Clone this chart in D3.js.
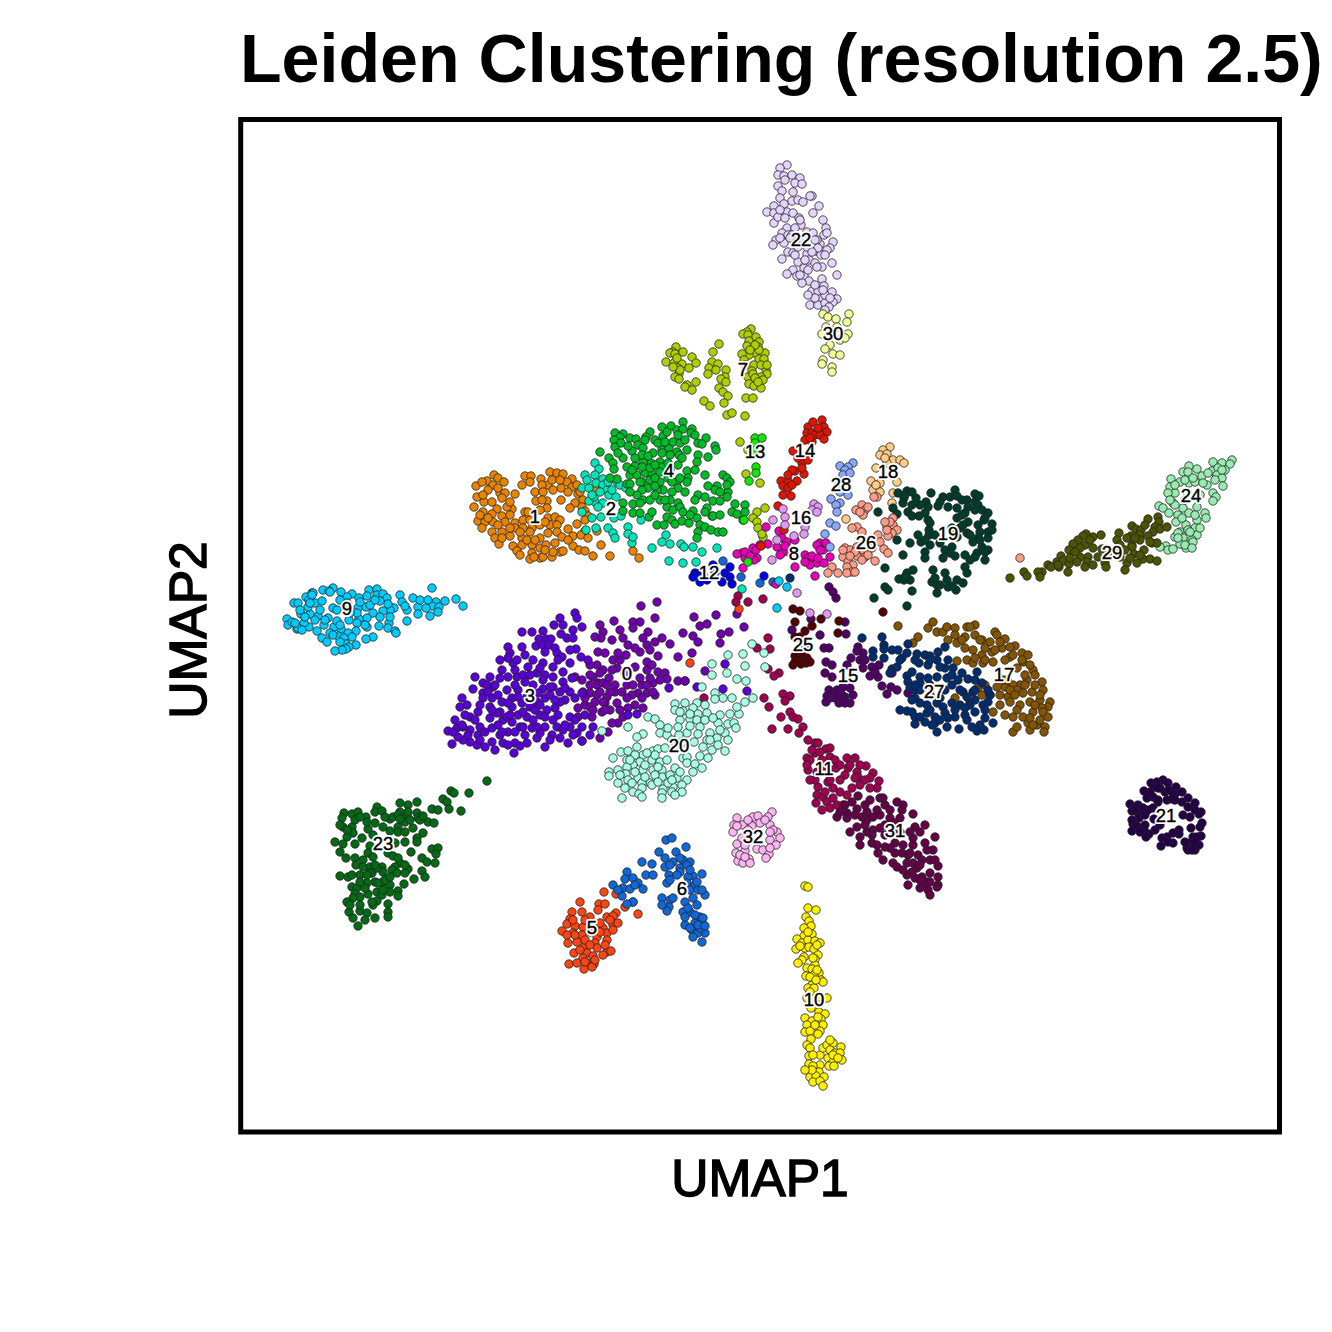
<!DOCTYPE html>
<html>
<head>
<meta charset="utf-8">
<script src="https://cdn.jsdelivr.net/npm/d3@7"></script>
<style>
  html, body { margin: 0; padding: 0; background: #fff; }
  svg { display: block; }
</style>
</head>
<body>
<script>
// embedding, flat x,y lists per cluster (umap1 grows right, umap2 is stored top-down)
const c0 = [401,486,417,482,415,498,374,501,360,505,363,512,361,518,355,517,380,510,383,518,388,525,393,502,400,502,393,508,408,512,407,525,400,532,415,522,422,518,430,524,418,536,407,542,358,532,365,533,373,540,380,540,443,513,438,537,357,545,363,550,377,548,395,547,407,550,418,552,425,553,427,559,438,561,445,561,369,558,375,565,387,565,393,565,402,565,413,563,420,560,358,563,350,573,357,575,367,577,375,572,398,573,407,573,415,575,395,585,403,588,338,588,345,585,350,587,338,597,352,597,362,592,370,590,380,590,383,597,378,603,372,603,368,612,360,618,342,621,365,583,377,583,357,565,343,572,342,560,335,557,353,557,350,565,363,563,370,572,363,582,355,582,407,565,413,572,392,575,454,497,460,506,467,504,476,495,481,514,489,512,504,507,480,523,453,516,458,522,452,533,465,551,445,561,497,494,372,520,395,528,403,518,410,530,412,545,372,550,385,553,350,545,350,555,360,553,367,565,382,572,400,558,410,558,360,572,345,578,365,590,387,578,402,578,388,588,353,590,378,533,386,535];
const c1 = [236,366,247,361,254,355,258,358,264,362,253,365,248,370,237,377,244,382,234,387,252,382,260,373,265,373,275,374,282,365,285,356,291,356,301,359,310,352,317,353,323,354,332,359,327,362,308,365,302,365,295,372,303,372,296,381,307,381,321,368,332,367,337,365,338,374,321,380,335,383,343,380,342,387,345,391,348,396,307,388,300,390,285,392,272,389,267,387,257,389,243,392,252,394,262,396,238,401,245,402,253,402,265,402,275,403,283,400,290,400,308,398,315,397,320,400,337,404,242,408,252,412,262,412,275,408,283,408,292,408,300,405,310,405,317,405,328,409,345,411,357,411,255,418,259,424,270,416,282,418,290,412,300,418,308,413,317,412,322,417,333,416,341,415,348,418,273,426,282,425,292,425,300,428,315,423,333,426,361,425,339,430,345,431,277,431,292,433,290,439,300,438,312,437,320,432,323,431,353,436,370,436,393,431,399,438,294,437,303,437,313,432,356,370,242,362,258,368,290,362,312,360,320,360,243,375,262,378,270,382,240,395,258,405,270,408,288,392,302,380,313,370,328,372,330,388,340,372,248,398,280,412,287,420,295,420,306,425,328,420,345,400,270,395,305,402,262,418,280,435,305,430];
const c2 = [355,343,359,349,345,355,355,355,363,359,356,363,377,362,342,368,349,368,363,365,367,370,369,375,380,365,386,368,376,377,355,382,363,383,349,381,358,387,342,392,352,398,361,397,374,398,381,396,346,410,356,408,368,408,373,413,375,418,388,407,388,414,392,423,401,400,393,417,426,415,422,422,430,424,412,428,441,424,444,427,453,427,462,432,477,428,429,441,443,443,456,442,354,377,502,469,368,362,360,372,352,375,372,370,347,360];
const c3 = [282,512,292,512,303,511,320,498,335,493,337,498,314,505,323,505,333,510,342,507,321,514,327,518,333,518,299,519,306,519,311,519,296,526,303,525,309,525,268,527,282,527,270,533,285,535,305,532,315,528,317,533,322,537,336,529,341,537,268,538,273,543,262,550,277,540,293,540,288,547,303,543,313,547,323,552,330,543,235,557,243,563,250,557,260,558,268,557,277,557,283,555,297,553,305,555,313,557,323,562,332,558,233,569,243,573,253,567,267,570,278,570,293,565,303,569,313,567,320,572,330,572,342,573,222,578,227,585,243,578,252,578,262,582,272,578,282,583,290,587,305,578,315,588,325,580,220,587,238,592,250,587,260,592,272,587,278,595,287,597,300,595,313,600,215,600,230,597,250,598,263,600,272,602,293,600,208,611,217,608,230,610,238,615,252,608,268,612,280,607,292,608,305,607,317,607,330,607,342,607,353,607,212,624,223,620,237,625,245,627,252,622,263,623,275,623,280,626,287,623,297,618,305,627,312,615,328,623,342,621,274,633,218,617,230,622,257,593,247,565,267,597,303,560,310,567,287,577,297,582,307,590,320,582,330,597,337,613,323,610,283,607,240,607,223,607,260,615,300,613,429,568,388,595,397,594,485,544,457,567,483,569,507,571,260,540,275,550,290,555,300,548,318,540,330,530,348,540,255,565,275,565,285,562,298,573,310,575,325,568,335,578,240,585,248,572,258,575,268,583,278,577,295,590,305,597,318,595,325,605,335,600,345,595,225,595,222,605,235,600,245,612,258,605,262,612,275,612,285,615,297,607,310,620,320,618,333,615,350,615,213,612,228,615,240,620,255,630,268,625,252,590,270,595,283,592,290,572,300,585,315,580];
const c4 = [360,332,375,313,383,314,380,317,374,320,375,327,381,323,369,338,373,343,374,349,383,338,390,318,396,319,398,325,392,331,403,328,410,312,406,317,415,320,422,307,431,306,437,310,443,302,443,309,452,309,451,313,423,316,413,333,422,330,429,328,433,322,440,323,437,332,447,330,458,323,466,318,462,324,475,326,476,330,468,337,458,335,457,342,439,335,430,335,422,333,420,342,411,343,403,342,395,346,387,347,390,355,397,355,405,353,412,353,422,347,430,350,438,345,447,351,448,358,447,362,465,355,483,355,487,358,490,362,468,366,477,366,475,370,488,372,458,375,465,377,473,381,480,381,487,377,455,380,453,391,467,388,495,384,505,385,492,392,497,394,503,400,472,396,473,396,402,362,410,360,420,362,428,358,437,362,438,368,432,372,423,370,417,370,408,368,402,370,397,375,403,380,410,380,393,384,383,383,420,380,430,380,438,383,427,387,433,390,440,387,383,391,393,393,400,393,409,397,417,405,424,405,427,397,432,400,435,404,442,401,449,403,457,398,460,405,465,407,471,410,478,412,483,412,458,412,457,418,377,359,370,358,387,364,390,364,415,358,402,347,410,348,402,335,418,323,438,315,427,312,378,333,388,326,405,320,425,322,445,320,455,315,395,338,408,336,428,343,442,338,455,350,400,362,415,366,392,350,415,345,440,358,420,352,400,383,412,392,415,375,425,380,445,372,390,372,432,362,443,392,450,395,465,392,480,395,487,365,480,372,505,392];
const c5 = [364,772,376,774,340,782,359,784,365,784,385,787,393,782,376,793,398,794,332,792,330,799,342,792,350,797,358,790,367,797,373,796,322,811,327,804,335,806,343,807,363,808,373,805,378,803,333,813,342,815,357,817,367,813,373,810,328,823,337,822,355,823,367,820,345,826,334,833,347,833,357,828,367,832,371,831,343,838,353,836,363,835,329,844,337,843,347,843,354,844,344,849,352,847,450,543,499,489,345,800,355,805,360,803,350,812,360,812,345,820,365,825,350,825,335,815,340,830,345,842,370,800,355,840,333,800,327,815];
const c6 = [426,720,432,718,446,727,419,732,436,732,425,738,433,742,443,740,450,742,425,747,430,745,440,748,447,745,429,755,440,752,402,742,412,744,427,763,453,756,462,754,448,757,447,763,387,752,393,758,385,759,406,755,413,755,373,765,398,763,383,768,390,769,403,769,382,776,393,782,387,784,455,765,450,770,458,770,465,775,422,778,430,780,433,778,453,778,445,782,457,785,429,787,427,791,443,792,450,792,460,797,445,805,455,803,462,803,452,810,465,813,458,813,453,817,462,822,445,797,483,441,501,457,520,463,533,462,440,738,450,750,457,762,462,770,437,755,430,760,422,785,448,788,455,795,463,798,450,808,460,808,458,805,465,806,395,765,378,770];
const c7 = [436,227,433,232,430,233,435,234,443,232,426,242,434,243,442,244,438,248,439,254,435,257,439,259,452,237,456,243,449,248,456,262,447,265,445,267,452,270,479,224,473,232,472,242,478,244,469,248,468,254,486,250,485,257,481,259,486,262,479,268,483,272,488,276,484,283,464,281,470,286,487,295,492,293,505,296,506,278,513,278,511,209,507,212,503,214,508,215,516,217,519,222,509,221,507,226,518,227,525,233,515,233,509,235,502,234,504,240,519,239,524,239,514,245,512,251,526,250,527,254,508,257,521,257,509,264,514,266,521,268,523,260,513,254,519,230,500,322,508,330,506,354,520,363,517,392,525,388,513,398,517,402,518,408,523,417,522,414,437,238,440,250,433,247,515,225,510,230,521,245,527,245,505,245,515,258,518,262,476,250];
const c8 = [526,407,539,411,528,424,513,428,516,430,502,433,497,434,505,438,517,438,514,440,503,448,542,418,547,422,537,427,542,433,550,433,555,420,555,447,575,456,565,435,568,438,572,442,577,443,584,443,590,437,580,423,577,425,587,427,583,430,570,445,540,435,536,464,505,432,510,436,520,425,545,426,580,430,572,436,565,442,578,438,586,423];
const c9 = [47,499,48,505,52,502,57,509,54,483,58,483,66,477,72,473,73,473,83,470,93,468,89,471,101,472,112,474,107,477,129,470,137,469,137,475,143,474,127,476,119,478,147,478,140,481,160,475,173,478,192,468,205,481,216,479,223,486,196,482,192,486,199,487,198,492,190,496,178,487,186,488,178,494,167,490,162,482,165,486,154,488,150,490,143,491,167,501,149,503,148,508,155,511,156,513,139,506,140,497,133,493,127,498,119,499,117,503,109,500,127,507,116,511,108,513,101,509,94,507,84,505,88,498,97,501,90,513,98,516,104,518,82,518,87,522,133,517,126,519,116,525,106,524,109,527,106,529,102,530,95,531,77,511,69,507,64,503,58,508,55,503,61,494,70,494,78,496,68,487,75,483,82,481,69,480,72,475,90,472,93,488,100,480,107,483,118,488,126,487,117,493,97,490,539,461,547,467,537,488,60,490,65,497,80,490,85,500,100,505,110,493,120,482,130,485,135,480,148,484,125,505,112,517,100,522,93,515,75,500,62,510,150,497,70,483,180,480,188,480];
const c10 = [565,766,568,767,568,788,576,790,566,797,569,801,571,806,564,808,564,816,572,814,557,819,562,823,568,820,575,821,580,823,556,829,565,828,569,827,574,829,578,835,564,837,562,840,558,843,575,839,575,845,567,848,572,849,579,853,566,856,574,855,581,860,583,862,572,865,568,868,574,868,567,878,587,878,580,877,571,888,579,892,585,894,565,898,572,901,581,899,583,905,567,905,565,912,570,911,580,911,578,914,571,919,567,925,570,928,569,936,580,935,583,928,587,925,593,923,601,927,590,930,595,933,600,933,588,938,602,940,593,942,589,946,594,946,569,944,580,945,573,946,579,952,570,957,576,956,584,957,573,962,580,961,583,966,560,826,568,812,577,825,573,838,577,850,570,857,576,860,570,872,578,897,575,905,590,920,593,935,598,938,573,935,572,950,565,950];
const c11 = [524,578,529,587,543,574,550,576,545,581,550,592,553,597,558,599,541,597,563,607,532,609,548,609,559,613,568,620,575,623,578,623,586,629,575,633,567,638,582,640,590,637,595,640,568,650,577,652,584,646,590,650,607,638,615,638,608,648,617,652,618,657,626,646,633,653,630,658,639,661,637,668,620,665,605,655,588,662,578,667,600,672,607,675,577,675,583,677,587,682,576,683,582,690,590,688,597,685,603,685,593,668,615,658,528,518,517,528,530,529,528,549,539,553,534,556,464,578,498,476,508,482,523,479,496,482,572,630,590,628,580,645,570,640,596,648,600,645,610,645,620,645,600,660,590,660,575,660,570,660,612,668,625,660,585,672,593,678,630,668,580,632,567,645];
const c12 = [455,453,453,457,460,453,473,445,475,453,463,455,460,462,482,462,485,453,490,447,492,464,490,457,467,460,524,456];
const c13 = [515,318,522,318,515,323,515,331,516,347,516,353,509,361,504,400,508,442];
const c14 = [568,307,573,302,582,300,584,307,587,312,567,313,572,313,575,315,580,315,584,319,565,320,572,322,553,331,562,343,568,340,555,351,552,350,564,354,541,361,548,361,557,361,543,366,548,368,551,376,543,375,538,386,521,426,544,410,558,338,578,308,570,318,562,348,548,355,552,365];
const c15 = [571,499,552,510,580,515,605,502,606,514,584,528,589,528,618,527,623,533,617,531,620,540,611,538,586,542,592,545,585,553,592,557,607,545,632,547,639,545,638,557,630,556,623,548,642,566,651,567,657,570,647,574,589,570,587,576,586,582,593,573,599,583,610,583,605,577,613,575,610,568,603,567,597,570,652,553,668,573,589,467,593,472,596,478,595,578,602,575,590,578,625,540,635,552,600,572,605,583];
const c16 = [574,384,578,387,572,390,577,392,543,389,545,397,545,405,533,400,565,407,564,414,554,416,537,420,532,440,557,473,570,493,587,494];
const c17 = [658,506,693,502,688,508,697,512,703,512,707,507,715,508,727,507,735,505,730,507,755,512,678,517,673,523,708,520,717,523,725,517,735,515,742,520,750,522,757,515,765,519,775,526,782,533,788,535,725,528,733,530,742,535,752,532,762,528,770,537,717,541,727,540,733,543,743,543,753,542,773,535,783,542,793,550,795,555,802,562,777,548,780,565,773,565,765,567,757,567,738,568,742,575,768,577,760,575,777,570,783,573,792,572,803,570,790,582,800,580,810,582,808,587,802,588,780,585,770,582,753,592,765,595,773,597,783,597,793,592,803,592,808,597,788,603,797,605,805,607,773,612,777,607,790,610,804,612,715,578,730,583,787,560,763,560,715,515,722,520,745,528,755,530,740,520,760,522,770,527,782,540,790,545,735,538,745,540,765,540,785,555,795,565,785,565,770,570,800,575,775,575,745,565,750,575,795,585,790,598,800,600,777,590,760,585,767,560,793,605];
const c18 = [650,327,643,330,640,335,647,334,653,340,660,340,664,343,636,348,631,361,640,363,633,370,640,372,657,362,653,373,652,383,647,343,606,399,645,338,636,365];
const c19 = [658,373,667,371,672,372,676,378,664,378,663,383,691,373,703,377,715,370,710,377,717,376,735,374,739,376,727,380,735,382,728,387,738,385,686,382,688,387,680,385,698,386,708,387,717,388,725,393,735,390,742,390,748,393,653,388,657,394,668,392,672,396,679,396,685,393,688,400,717,398,728,402,738,405,752,404,744,400,689,410,690,403,678,415,689,415,681,422,690,425,720,408,727,413,717,417,738,418,748,412,748,418,733,422,742,427,748,430,712,427,705,430,715,436,737,433,745,440,735,437,657,420,663,435,685,432,685,438,703,438,693,450,673,450,667,453,670,460,659,459,664,460,645,448,645,467,648,470,672,471,634,478,667,486,705,453,707,460,692,462,697,465,697,473,708,467,717,460,716,470,725,447,727,453,723,463,638,392,712,408,723,405,700,423,670,423,665,375,700,382,722,380,745,398,740,412,722,395,730,415,725,435,710,433,695,415,685,420,740,420,752,410,745,432,730,440,695,458,700,465,712,466,665,457,672,385];
const c20 = [435,584,445,583,457,583,475,573,483,578,492,578,475,579,465,585,453,588,443,591,435,590,458,594,467,593,480,595,490,594,499,594,497,587,505,582,513,578,408,597,415,599,388,607,440,600,450,599,457,600,478,603,488,604,494,603,496,608,420,605,420,613,427,615,403,614,397,617,447,613,460,607,470,613,485,613,488,620,477,618,467,620,432,620,439,615,454,622,397,627,381,632,388,631,373,638,403,635,413,631,418,629,463,627,472,630,478,625,485,631,443,638,447,637,460,636,468,638,387,640,400,642,412,640,420,642,427,640,393,645,387,647,403,650,413,650,422,650,435,648,447,643,455,644,462,648,453,652,369,652,369,656,386,654,388,660,398,658,410,663,422,657,437,658,447,660,378,663,385,668,393,672,402,663,402,668,412,665,423,669,433,667,442,665,442,672,382,678,399,674,402,677,422,673,422,678,432,672,435,675,415,635,407,633,512,524,524,533,488,535,503,534,472,544,505,546,487,553,472,555,525,547,497,559,506,561,462,567,362,611,440,592,450,594,465,600,473,598,428,608,438,607,450,606,480,610,470,620,458,614,445,622,395,635,405,645,418,647,430,655,440,652,425,628,415,655,395,652,405,657,392,663,428,663,390,640,378,650,418,662,432,660,380,655];
const c21 = [923,660,917,662,911,663,914,667,928,663,936,667,904,671,925,672,929,670,936,673,942,672,913,677,907,678,933,673,927,680,932,679,890,684,898,685,918,682,948,678,942,682,955,683,948,687,892,691,903,688,913,688,898,693,899,698,943,695,950,697,961,692,959,694,914,699,893,704,897,706,905,705,962,703,960,707,920,705,951,708,892,711,904,710,915,710,939,710,933,713,939,714,909,714,906,717,927,717,922,718,961,716,953,717,957,717,921,726,933,723,950,723,959,725,947,728,955,730,948,730,920,668,918,680,910,672,895,690,905,695,908,690,955,690,892,700,900,712,955,722,945,722,952,730,928,722,918,668,935,680];
const c22 = [547,45,540,48,538,55,544,56,552,55,560,58,555,63,562,64,538,66,542,71,553,72,540,78,552,81,558,80,563,82,572,76,570,76,579,86,573,93,534,86,544,84,527,92,534,93,541,92,547,92,553,93,534,103,538,97,559,98,561,105,583,100,586,108,584,115,547,108,542,113,536,120,533,125,544,123,548,115,567,112,573,113,580,124,593,122,590,128,542,139,548,132,553,133,567,134,576,131,581,135,558,142,569,140,575,143,582,147,592,143,553,150,547,154,557,156,564,148,564,156,569,161,562,163,582,159,584,166,572,171,578,171,592,172,582,178,597,179,570,185,578,185,585,183,593,182,589,187,567,127,577,120,587,130,558,127,555,120,563,120,587,113,597,155,545,60,540,90,545,98,560,100,555,108,552,115,575,120,578,128,572,132,565,140,555,135,585,135,577,147,568,150,560,155,575,165,585,175,590,178,583,170,550,118,540,118,585,190,575,178,568,175];
const c23 = [247,661,229,673,211,671,214,673,203,679,207,682,192,689,198,690,209,689,221,691,177,682,160,683,168,685,160,692,137,687,135,692,142,691,104,693,112,694,118,692,126,697,102,698,150,699,167,695,177,693,178,698,188,702,194,703,135,703,103,707,112,707,128,709,158,707,165,702,173,708,183,713,113,713,107,717,122,718,143,707,133,715,158,712,165,722,177,718,177,722,155,723,95,722,103,724,115,724,100,732,130,726,128,733,148,733,153,736,171,732,192,729,198,728,196,734,106,738,115,738,123,740,133,737,160,743,182,738,187,742,195,743,130,747,142,747,155,747,152,750,168,749,182,751,100,756,108,757,120,755,132,753,143,752,157,753,165,753,185,757,174,759,112,767,117,768,135,762,143,762,150,765,164,764,115,774,128,774,137,772,142,775,150,772,158,771,158,776,120,777,113,778,107,782,137,781,148,784,133,785,109,792,120,791,127,793,113,798,125,800,135,798,118,806,148,792,148,797,130,753,138,763,115,700,120,697,127,702,100,705,107,710,145,697,153,697,158,695,168,692,160,699,170,700,150,711,165,712,180,700,183,696,116,745,123,747,137,748,127,755,145,760,127,763,135,745,150,757,165,745,125,768,132,782,143,770,120,785,110,785,112,755,120,762,158,738];
const c24 = [992,340,973,342,982,343,990,344,972,351,978,348,985,350,949,346,957,349,943,352,948,352,962,356,968,353,977,355,982,358,975,360,983,366,931,359,940,362,949,363,955,362,967,365,930,367,935,373,928,373,947,372,973,373,976,377,973,381,919,386,923,388,933,383,943,388,957,387,929,393,938,395,949,393,965,393,966,398,957,400,936,402,946,405,955,408,940,412,948,410,957,415,935,417,943,418,952,420,940,424,946,428,953,422,926,426,920,427,928,430,933,429,938,413,963,363,935,365,945,360,953,358,935,385,930,380,945,380,960,375,955,395,942,398,950,412,960,408,945,425,938,418,982,350,952,428];
const c25 = [553,489,560,491,555,502,572,506,565,511,555,517,560,517,565,525,555,536,562,537,567,538,553,545,561,544,566,543,581,499,599,501,598,513,643,492,558,540,570,542,562,532,555,542];
const c26 = [637,377,634,377,622,385,616,390,625,390,628,387,623,395,653,398,647,407,653,405,657,410,652,413,648,416,647,410,617,407,612,408,622,412,638,415,640,422,644,429,648,433,605,428,610,430,617,427,623,430,632,428,603,437,617,436,625,437,635,441,608,442,613,445,607,447,612,452,607,453,615,452,592,447,588,453,598,453,780,438,620,392,650,402,645,402,615,432,622,440,610,436,603,430,628,435];
const c27 = [622,518,642,517,644,525,644,529,633,531,633,537,644,538,652,530,658,530,668,524,667,533,662,538,677,534,685,535,690,536,698,532,705,527,679,543,688,545,697,540,708,540,713,548,705,548,672,552,667,556,668,562,680,557,688,558,697,557,707,558,722,553,728,559,737,552,742,563,718,560,670,568,723,572,727,577,733,572,750,575,748,582,680,583,687,585,697,583,703,587,712,583,720,585,730,585,743,585,667,591,672,592,675,597,687,593,695,597,705,593,715,597,725,595,735,592,745,598,753,603,675,604,685,602,695,603,707,607,719,609,697,612,732,607,737,611,744,610,740,605,652,549,657,547,650,553,680,563,675,570,680,570,550,458,660,540,675,540,690,540,700,547,712,555,675,565,690,565,712,565,720,570,735,570,690,575,705,570,735,560,675,578,690,590,700,578,715,590,735,580,680,597,727,600,708,598,692,605,745,590,660,590,672,580,700,600,725,588,748,570];
const c28 = [600,346,613,343,608,347,605,350,603,355,610,353,608,375,600,372,591,379,600,383,596,385,597,392,590,403,596,406,599,365,585,414,590,427];
const c29 = [908,399,918,397,919,402,892,406,915,407,896,409,901,410,920,409,927,407,913,412,846,414,843,416,853,417,861,415,879,413,891,416,900,415,908,416,838,420,833,424,877,420,887,418,900,420,912,423,917,423,845,425,829,430,853,428,892,425,892,427,862,429,904,430,821,436,848,437,817,442,823,441,840,437,837,442,894,434,903,439,910,439,917,441,808,445,811,447,819,447,847,442,853,445,865,443,887,443,880,437,897,443,829,444,802,452,798,452,828,452,866,447,885,450,770,458,784,452,787,456,800,457,880,425,885,430,875,430,905,405,910,422,895,418,850,420,840,428,835,432,858,437,845,447,870,436,890,438,900,435,818,445,830,438];
const c30 = [583,194,588,197,596,199,609,194,607,202,586,207,582,214,588,217,600,220,608,214,605,218,590,225,585,229,593,234,600,235,583,240,582,244,592,247,592,252,597,207];
const c31 = [643,678,640,678,645,685,657,682,663,685,662,690,673,694,618,676,612,682,617,689,605,685,597,697,607,693,627,692,637,690,650,698,655,703,627,700,610,712,617,707,627,712,633,710,620,717,620,725,632,723,637,725,638,733,675,707,685,705,680,712,695,717,673,718,655,723,663,725,673,725,685,723,693,730,662,733,668,735,678,735,682,740,643,740,653,743,657,747,667,743,673,743,690,740,698,746,690,753,667,755,677,748,682,757,688,762,698,757,698,765,668,765,680,768,688,770,690,775,697,767,685,763,607,698,600,692,622,697,630,680,625,685,650,690,640,695,615,695,633,697,660,698,645,705,652,712,640,708,660,712,670,712,625,705,645,715,645,727,655,733,670,733,687,730,680,745,663,750,672,752,690,762,675,758,680,760,695,740,650,728,632,715];
const c32 = [532,692,528,697,513,697,518,696,497,698,494,705,503,705,520,703,512,706,530,705,493,712,508,710,537,712,540,718,530,720,536,725,497,724,505,731,496,733,517,729,523,730,529,734,526,738,498,741,503,743,509,739,510,743,502,718,533,710,508,700,525,700,497,706,530,712,530,728,505,725,500,735,505,737];

const clusters = [c0, c1, c2, c3, c4, c5, c6, c7, c8, c9, c10, c11, c12, c13, c14, c15, c16, c17, c18, c19, c20, c21, c22, c23, c24, c25, c26, c27, c28, c29, c30, c31, c32];

const palette = ['#7000ac', '#ea8300', '#00e6b8', '#5800d6', '#00bb28', '#ff4414', '#1068d8', '#aed000', '#e800b8', '#00ccff', '#fff000', '#a00050', '#0000e8', '#10e800', '#e01400', '#500068', '#e098f4', '#845400', '#ffcc88', '#003c2c', '#a8ffe4', '#240048', '#e4d4ff', '#006a14', '#98ecb0', '#540000', '#ff9c88', '#002c70', '#88a8ff', '#4c5400', '#f2ff98', '#640048', '#ffb4f4'];

// where each cluster name sits
const labelX = [387, 295, 371, 290, 429, 352, 442, 503, 554, 107, 574, 584, 469, 515, 565, 608, 561, 764, 648, 708, 439, 926, 561, 143, 951, 563, 626, 694, 601, 872, 593, 655, 513];
const labelY = [553, 396, 388, 575, 350, 807, 768, 249, 433, 488, 879, 648, 452, 331, 330, 555, 397, 554, 351, 413, 625, 695, 119, 723, 375, 524, 422, 571, 364, 432, 213, 710, 716];

const titleText = 'Leiden Clustering (resolution 2.5)';
const xLabel = 'UMAP1';
const yLabel = 'UMAP2';

const size = 1332;
const frame = { left: 240.7, top: 119.5, right: 1279.5, bottom: 1132 };

const x = d3.scaleLinear().domain([0, 1040]).range([240, 1280]);
const y = d3.scaleLinear().domain([0, 1012]).range([120, 1132]);

const svg = d3.select('body').append('svg').attr('width', size).attr('height', size);
svg.append('rect').attr('width', size).attr('height', size).attr('fill', '#fff');

const points = [];
clusters.forEach((list, c) => {
  for (let i = 0; i < list.length; i += 2) {
    points.push({ c, u: list[i], v: list[i + 1] });
  }
});

svg.append('g').selectAll('circle').data(points).join('circle')
  .attr('cx', (d) => x(d.u))
  .attr('cy', (d) => y(d.v))
  .attr('r', 4.2)
  .attr('fill', (d) => palette[d.c])
  .attr('stroke', '#222')
  .attr('stroke-width', 0.8);

svg.append('rect')
  .attr('x', frame.left).attr('y', frame.top)
  .attr('width', frame.right - frame.left).attr('height', frame.bottom - frame.top)
  .attr('fill', 'none').attr('stroke', '#000').attr('stroke-width', 5);

// cluster names: white halo first, glyphs on top
const names = svg.append('g')
  .attr('text-anchor', 'middle')
  .attr('font-family', 'Liberation Sans')
  .attr('font-size', 18.5);

names.selectAll('text.halo').data(clusters).join('text')
  .attr('class', 'halo')
  .attr('x', (d, i) => x(labelX[i]))
  .attr('y', (d, i) => y(labelY[i]))
  .attr('dominant-baseline', 'central')
  .attr('fill', '#fff')
  .attr('stroke', '#fff')
  .attr('stroke-width', 4)
  .attr('stroke-linejoin', 'round')
  .text((d, i) => i);

names.selectAll('text.name').data(clusters).join('text')
  .attr('class', 'name')
  .attr('x', (d, i) => x(labelX[i]))
  .attr('y', (d, i) => y(labelY[i]))
  .attr('dominant-baseline', 'central')
  .attr('fill', '#000')
  .attr('stroke', '#000')
  .attr('stroke-width', 0.4)
  .text((d, i) => i);

svg.append('text')
  .attr('x', 240).attr('y', 82)
  .attr('font-family', 'Liberation Sans').attr('font-weight', 'bold').attr('font-size', 68.15)
  .text(titleText);

svg.append('text')
  .attr('x', 760).attr('y', 1196)
  .attr('text-anchor', 'middle')
  .attr('font-family', 'Liberation Sans').attr('font-size', 51.5)
  .attr('stroke', '#000').attr('stroke-width', 1.5)
  .text(xLabel);

svg.append('text')
  .attr('transform', 'translate(206,630) rotate(-90)')
  .attr('text-anchor', 'middle')
  .attr('font-family', 'Liberation Sans').attr('font-size', 51.5)
  .attr('stroke', '#000').attr('stroke-width', 1.5)
  .text(yLabel);
</script>
</body>
</html>
